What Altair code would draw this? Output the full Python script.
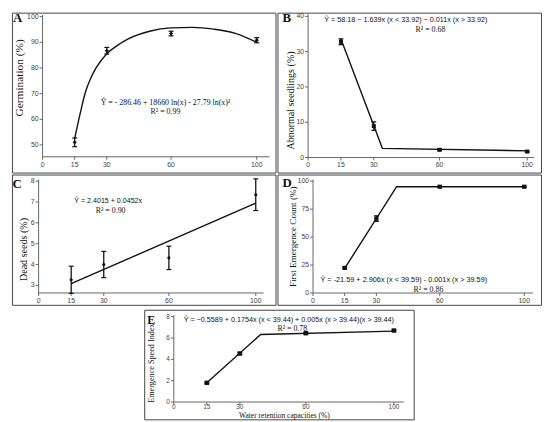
import altair as alt
import pandas as pd

# ---------------- data ----------------
WRC = [15, 30, 60, 100]
X_TICKS = [0, 15, 30, 60, 100]

GERM_MEAN = [51.0, 86.7, 93.4, 90.8]
GERM_ERR = [1.7, 1.3, 0.9, 1.0]
GERM_FIT_X = [15, 17.5, 20, 22.5, 25, 30, 35, 40, 50, 60, 70, 80, 90, 100]
GERM_FIT_Y = [52.5, 62.0, 70.5, 76.0, 80.0, 85.5, 88.8, 91.3, 94.3, 95.6, 95.8, 95.1, 93.5, 90.0]
GERM_Y_TICKS = [50, 60, 70, 80, 90, 100]

ABN_MEAN = [32.8, 8.9, 2.2, 1.7]
ABN_ERR = [0.8, 1.2, 0.25, 0.2]
ABN_FIT_X = [15, 33.92, 100]
ABN_FIT_Y = [33.6, 2.6, 1.9]
ABN_Y_TICKS = [0, 10, 20, 30, 40]

DEAD_MEAN = [3.27, 4.0, 4.32, 7.35]
DEAD_ERR = [0.65, 0.63, 0.56, 0.76]
DEAD_FIT_X = [15, 100]
DEAD_FIT_Y = [3.08, 6.95]
DEAD_Y_TICKS = [3, 4, 5, 6, 7, 8]

FEC_MEAN = [22.5, 66.5, 95.0, 95.0]
FEC_ERR = [0.8, 2.5, 0.6, 0.6]
FEC_FIT_X = [15, 39.59, 100]
FEC_FIT_Y = [22.0, 95.0, 95.0]
FEC_Y_TICKS = [0, 25, 50, 75, 100]

ESI_MEAN = [1.8, 4.55, 6.45, 6.7]
ESI_ERR = [0.08, 0.1, 0.08, 0.06]
ESI_FIT_X = [15, 39.44, 100]
ESI_FIT_Y = [1.8, 6.33, 6.65]
ESI_Y_TICKS = [0, 2, 4, 6, 8]

# ---------------- styles ----------------
SERIF = "Liberation Serif"
SANS = "Liberation Sans"
AXC = "#666666"
BOXC = "#444444"
LBLC = "#444444"
INK = "#111111"


def ann(text, x, y, size, font=SERIF, weight="normal", align="center",
        baseline="middle", angle=0, color=INK):
    kw = dict(align=align, baseline=baseline, fontSize=size, font=font,
              fontWeight=weight, color=color)
    if angle:
        kw["angle"] = angle
    return alt.Chart(pd.DataFrame({"t": [text]})).mark_text(**kw).encode(
        x=alt.value(x), y=alt.value(y), text="t:N")


def panel(W, H, px0, kx, pyref, vref, ky, ybase, ytop, xend,
          yticks, mean, err, fit_x, fit_y, point, texts, curve=False,
          lab_size=7, lab_dy=4):
    xdom = [-px0 / kx, (W - px0) / kx]
    ydom = [vref - (H - pyref) / ky, vref + pyref / ky]
    xs = alt.Scale(domain=xdom, nice=False, zero=False)
    ys = alt.Scale(domain=ydom, nice=False, zero=False)

    def X(f):
        return alt.X(f, type="quantitative", scale=xs, axis=None)

    def Y(f):
        return alt.Y(f, type="quantitative", scale=ys, axis=None)

    layers = []
    ax = pd.DataFrame({"x0": [0], "x1": [xend], "y0": [ybase], "y1": [ytop]})
    layers.append(alt.Chart(ax).mark_rule(color=AXC, strokeWidth=1).encode(
        x=X("x0"), y=Y("y0"), y2="y1"))
    layers.append(alt.Chart(ax).mark_rule(color=AXC, strokeWidth=1).encode(
        x=X("x0"), x2="x1", y=Y("y0")))

    yt = pd.DataFrame({"v": yticks, "x": [0] * len(yticks),
                       "lab": [str(v) for v in yticks]})
    layers.append(alt.Chart(yt).mark_tick(orient="horizontal", size=3, thickness=1,
                                          xOffset=-1.5, color=AXC, opacity=1).encode(
        x=X("x"), y=Y("v")))
    layers.append(alt.Chart(yt).mark_text(align="right", baseline="middle", dx=-4,
                                          fontSize=lab_size, font=SANS, color=LBLC).encode(
        x=X("x"), y=Y("v"), text="lab:N"))

    xt = pd.DataFrame({"v": X_TICKS, "y": [ybase] * len(X_TICKS),
                       "lab": [str(v) for v in X_TICKS]})
    layers.append(alt.Chart(xt).mark_tick(orient="vertical", size=3, thickness=1,
                                          yOffset=1.5, color=AXC, opacity=1).encode(
        x=X("v"), y=Y("y")))
    layers.append(alt.Chart(xt).mark_text(align="center", baseline="top", dy=lab_dy,
                                          fontSize=lab_size, font=SANS, color=LBLC).encode(
        x=X("v"), y=Y("y"), text="lab:N"))

    fit = pd.DataFrame({"x": fit_x, "y": fit_y})
    lk = dict(color=INK, strokeWidth=1.4)
    if curve:
        lk["interpolate"] = "monotone"
    layers.append(alt.Chart(fit).mark_line(**lk).encode(x=X("x"), y=Y("y")))

    pts = pd.DataFrame({"x": WRC, "m": mean,
                        "lo": [m - e for m, e in zip(mean, err)],
                        "hi": [m + e for m, e in zip(mean, err)]})
    layers.append(alt.Chart(pts).mark_rule(color=INK, strokeWidth=1.3).encode(
        x=X("x"), y=Y("lo"), y2="hi"))
    layers.append(alt.Chart(pts).mark_tick(orient="horizontal", size=5, thickness=1.2,
                                           color=INK, opacity=1).encode(x=X("x"), y=Y("lo")))
    layers.append(alt.Chart(pts).mark_tick(orient="horizontal", size=5, thickness=1.2,
                                           color=INK, opacity=1).encode(x=X("x"), y=Y("hi")))
    shape, size = point
    layers.append(alt.Chart(pts).mark_point(shape=shape, size=size, filled=True,
                                            color=INK, opacity=1).encode(
        x=X("x"), y=Y("m")))

    for t in texts:
        layers.append(t)

    return alt.layer(*layers).properties(
        width=W, height=H,
        view=alt.ViewBackground(stroke=BOXC, strokeWidth=1, fill="white"))


pA = panel(267, 162, 31, 2.17, 4, 100, 2.6, 45.38, 100.6, 106,
           GERM_Y_TICKS, GERM_MEAN, GERM_ERR, GERM_FIT_X, GERM_FIT_Y,
           ("diamond", 18),
           [ann("A", 1, 9, 13, weight="bold", align="left", baseline="alphabetic"),
            ann("Germination (%)", 8, 66, 11.5, angle=270),
            ann("Ŷ = - 286.46 + 18660 ln(x) - 27.79 ln(x)²", 155.5, 92, 8),
            ann("R² = 0.99", 155.5, 100.5, 8)],
           curve=True)

pB = panel(267, 162, 31, 2.22, 3.7, 40, 3.577, 0, 40.6, 103.2,
           ABN_Y_TICKS, ABN_MEAN, ABN_ERR, ABN_FIT_X, ABN_FIT_Y,
           ("square", 16),
           [ann("B", 5, 9, 13, weight="bold", align="left", baseline="alphabetic"),
            ann("Abnormal seedlings (%)", 14, 89, 10.2, angle=270),
            ann("Ŷ = 58.18 − 1.639x (x < 33.92) − 0.011x (x > 33.92)", 130, 7.7, 7.3, font=SANS),
            ann("R² = 0.68", 155, 18, 8)])

pC = panel(267, 132, 27, 2.2, 6.7, 8, 21.12, 2.635, 8.08, 103.6,
           DEAD_Y_TICKS, DEAD_MEAN, DEAD_ERR, DEAD_FIT_X, DEAD_FIT_Y,
           ("circle", 10),
           [ann("C", 0.5, 14, 13, weight="bold", align="left", baseline="alphabetic"),
            ann("Dead seeds (%)", 12, 76, 10.2, angle=270),
            ann("Ŷ = 2.4015 + 0.0452x", 97.5, 26.7, 7.2, font=SANS),
            ann("R² = 0.90", 100, 36.7, 8)])

pD = panel(267, 132, 36, 2.14, 6.7, 100, 1.1333, 0, 101.5, 104.2,
           FEC_Y_TICKS, FEC_MEAN, FEC_ERR, FEC_FIT_X, FEC_FIT_Y,
           ("square", 18),
           [ann("D", 5, 13, 13, weight="bold", align="left", baseline="alphabetic"),
            ann("First Emergence Count (%)", 15.5, 63, 9.3, angle=270),
            ann("Ŷ = -21.59 + 2.906x (x < 39.59) - 0.001x (x > 39.59)", 128, 106.7, 7.4, font=SANS),
            ann("R² = 0.86", 153, 116.7, 8)])

pE = panel(273, 111, 30, 2.23, 7, 8, 10.81, 0, 8.15, 104.5,
           ESI_Y_TICKS, ESI_MEAN, ESI_ERR, ESI_FIT_X, ESI_FIT_Y,
           ("square", 20),
           [ann("E", 3, 14, 12, weight="bold", align="left", baseline="alphabetic"),
            ann("Emergence Speed Index", 8, 54, 8.3, angle=270),
            ann("Ŷ = −0.5589 + 0.1754x (x < 39.44) + 0.005x (x > 39.44)(x > 39.44)", 146.5, 10, 7.3, font=SANS),
            ann("R² = 0.78", 150, 20, 8),
            ann("Water retention capacities  (%)", 142, 109.8, 7.6, baseline="alphabetic")],
           lab_size=6.5, lab_dy=2)

spacer = alt.Chart(pd.DataFrame({"a": [0]})).mark_point(opacity=0).encode(
    x=alt.value(0), y=alt.value(0)).properties(width=132, height=111)

row1 = alt.hconcat(pA, pB, spacing=0)
row2 = alt.hconcat(pC, pD, spacing=0)
row3 = alt.hconcat(spacer, pE, spacing=0)

chart = alt.vconcat(row1, row2, row3, spacing=0).properties(
    padding=0, background="white"
).configure_view(stroke="transparent")

chart.save("out.html", embed_options={"renderer": "svg", "actions": False})
